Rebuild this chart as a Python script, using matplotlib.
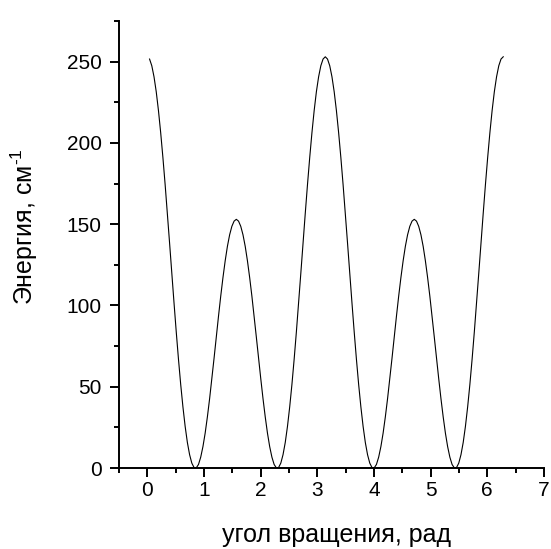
import numpy as np
import matplotlib
matplotlib.use("Agg")
import matplotlib.pyplot as plt
from matplotlib.ticker import MultipleLocator

plt.rcParams['font.family'] = ['Liberation Sans', 'DejaVu Sans']
plt.rcParams['mathtext.fontset'] = 'custom'
plt.rcParams['mathtext.rm'] = 'Liberation Sans'
plt.rcParams['mathtext.default'] = 'regular'

# угол вращения (рад), шаг pi/80
angle = np.linspace(np.pi / 80, 2 * np.pi, 160)

# энергия на полупериоде 0..pi/2, см^-1
quarter = [251.6, 247.5, 240.7, 231.5, 219.9, 206.3, 191.0, 174.4, 156.7, 138.4,
           119.8, 101.5, 83.7, 66.9, 51.4, 37.6, 25.6, 15.7, 8.2, 3.0,
           0.3, 0.1, 2.2, 6.7, 13.2, 21.5, 31.5, 42.7, 54.9, 67.6,
           80.6, 93.5, 105.8, 117.2, 127.5, 136.4, 143.5, 148.7, 151.9, 153.0]
back = [151.9, 148.7, 143.5, 136.4, 127.5, 117.2, 105.8, 93.5, 80.6, 67.6,
        54.9, 42.7, 31.5, 21.5, 13.2, 6.7, 2.2, 0.1, 0.3, 3.0,
        8.2, 15.7, 25.6, 37.6, 51.4, 66.9, 83.7, 101.5, 119.8, 138.4,
        156.7, 174.4, 191.0, 206.3, 219.9, 231.5, 240.7, 247.5, 251.6, 253.0]
energy = quarter + back + quarter + back

fig = plt.figure(figsize=(5.51, 5.49), dpi=100)
ax = fig.add_axes([0.216, 0.1475, 0.771, 0.8142])

ax.plot(angle, energy, color='black', linewidth=0.8)

ax.set_xlim(-0.5, 7)
ax.set_ylim(0, 275)

ax.xaxis.set_major_locator(MultipleLocator(1))
ax.xaxis.set_minor_locator(MultipleLocator(0.5))
ax.yaxis.set_major_locator(MultipleLocator(50))
ax.yaxis.set_minor_locator(MultipleLocator(25))

for s in ['top', 'right']:
    ax.spines[s].set_visible(False)
for s in ['left', 'bottom']:
    ax.spines[s].set_linewidth(1.4)

ax.tick_params(which='major', direction='out', length=6.5, width=1.4, labelsize=15)
ax.tick_params(which='minor', direction='out', length=3.6, width=1.4)
ax.tick_params(axis='x', which='major', pad=2.5)
ax.tick_params(axis='y', which='major', pad=6)

ax.set_xlabel('угол вращения, рад', fontsize=18)
ax.set_ylabel('Энергия, см$^{\u2010 1}$', fontsize=18)
ax.xaxis.set_label_coords(0.512, -0.165)
ax.yaxis.set_label_coords(-0.222, 0.540)
ax.xaxis.label.set_va('baseline')
ax.yaxis.label.set_va('center')

fig.savefig('out.png', dpi=100)
